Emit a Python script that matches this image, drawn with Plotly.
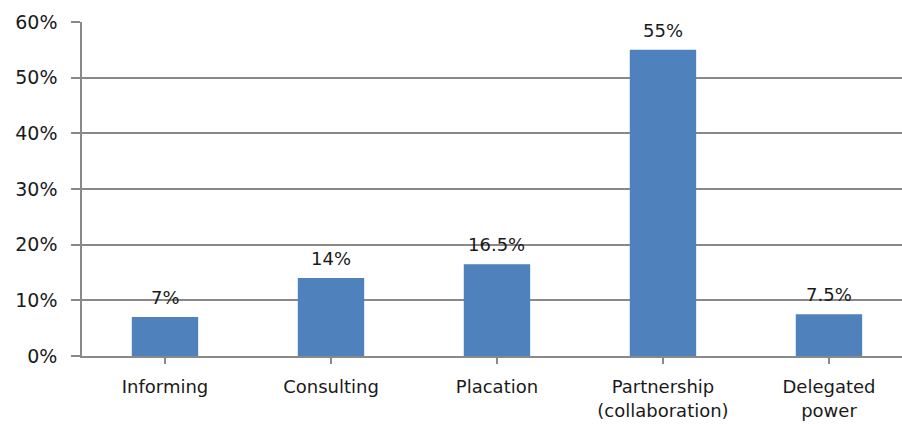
import plotly.graph_objects as go

categories = ["Informing", "Consulting", "Placation", "Partnership<br>(collaboration)", "Delegated<br>power"]
shares = [0.07, 0.14, 0.165, 0.55, 0.075]
share_labels = ["7%", "14%", "16.5%", "55%", "7.5%"]
y_ticks = [0, 0.1, 0.2, 0.3, 0.4, 0.5, 0.6]
y_tick_labels = ["0%", "10%", "20%", "30%", "40%", "50%", "60%"]

axis_grey = "#898989"
font_family = "DejaVu Sans"

fig = go.Figure(
    go.Bar(
        x=list(range(len(categories))),
        y=shares,
        width=0.4,
        marker=dict(color="#4F81BD", line=dict(width=0)),
        hoverinfo="skip",
    )
)

for i, (v, t) in enumerate(zip(shares, share_labels)):
    fig.add_annotation(
        x=i, y=v, text=t, showarrow=False,
        yanchor="bottom", yshift=7,
        font=dict(family=font_family, size=18, color="#1a1a1a"),
    )

fig.update_layout(
    width=902, height=424,
    margin=dict(l=82, r=0, t=22, b=68, autoexpand=False),
    paper_bgcolor="white", plot_bgcolor="white",
    showlegend=False,
    font=dict(family=font_family, size=19, color="#1a1a1a"),
    bargap=0.6,
)

fig.update_xaxes(
    range=[-0.5, 4.44],
    tickmode="array",
    tickvals=list(range(len(categories))),
    ticktext=categories,
    tickson="boundaries",
    ticks="outside", ticklen=6, tickcolor=axis_grey, tickwidth=1.5,
    ticklabelstandoff=8,
    showline=True, linecolor=axis_grey, linewidth=1.5,
    showgrid=False, zeroline=False, automargin=False,
    tickfont=dict(family=font_family, size=18),
)

fig.update_yaxes(
    range=[0, 0.6],
    tickmode="array",
    tickvals=y_ticks,
    ticktext=y_tick_labels,
    ticks="outside", ticklen=9, tickcolor=axis_grey, tickwidth=1.5,
    ticklabelstandoff=10,
    showline=True, linecolor=axis_grey, linewidth=1.5,
    showgrid=True, gridcolor=axis_grey, gridwidth=1.5,
    zeroline=False, automargin=False,
    tickfont=dict(family=font_family, size=19),
)

fig.write_html("out.html")
